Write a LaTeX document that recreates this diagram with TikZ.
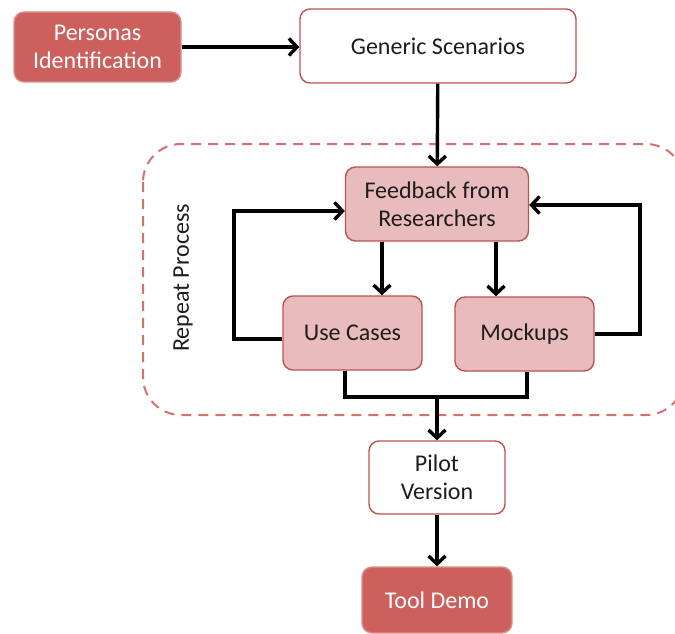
\documentclass[tikz,border=0pt]{standalone}
\usepackage{fontspec}
\setmainfont{Carlito}
\usepackage{tikz}
\usetikzlibrary{arrows.meta,positioning}

\definecolor{boxred}{RGB}{205,96,92}
\definecolor{boxpink}{RGB}{232,188,188}
\definecolor{edgered}{RGB}{186,84,82}
\definecolor{dashred}{RGB}{214,112,110}
\definecolor{txtdark}{RGB}{32,28,28}

\begin{document}
\begin{tikzpicture}[x=1pt, y=-1pt]
  \useasboundingbox (0,0) rectangle (675,634);

  % ---- Styles ---------------------------------------------------
  \tikzstyle{box}=[rounded corners=10pt, draw=edgered, line width=1.4pt,
                   align=center, text=txtdark, inner sep=0pt,
                   font=\fontsize{24}{28}\selectfont]
  \tikzstyle{darkbox}=[box, fill=boxred, draw=boxred!70!white, text=white]
  \tikzstyle{pinkbox}=[box, fill=boxpink]
  \tikzstyle{plainbox}=[box, fill=white]
  \tikzstyle{arrow}=[line width=3.4pt, line join=miter,
                     -{Straight Barb[length=8pt, width=17pt]}]
  \tikzstyle{line}=[line width=3.4pt, line join=miter]

  % ---- Repeat region (dashed, runs off the right edge) ----------
  \draw[dashred, line width=2pt, dash pattern=on 10pt off 7pt,
        rounded corners=38pt] (143,144) rectangle (684,415);
  \node[rotate=90, font=\fontsize{24}{28}\selectfont, text=txtdark]
    (repeat) at (183,278) {Repeat Process};

  % ---- Boxes ----------------------------------------------------
  \node[darkbox,  minimum width=167pt, minimum height=70pt] (personas) at (97.5,47)  {Personas\\Identification};
  \node[plainbox, minimum width=276pt, minimum height=74pt] (generic)  at (438,46)   {Generic Scenarios};
  \node[pinkbox,  minimum width=183pt, minimum height=74pt] (feedback) at (437,204)  {Feedback from\\Researchers};
  \node[pinkbox,  minimum width=139pt, minimum height=74pt] (usecases) at (352.5,333) {Use Cases};
  \node[pinkbox,  minimum width=139pt, minimum height=74pt] (mockups)  at (524.5,334) {Mockups};
  \node[plainbox, minimum width=136pt, minimum height=73pt] (pilot)    at (437,477.5) {Pilot\\Version};
  \node[darkbox,  minimum width=150pt, minimum height=66pt] (tooldemo) at (437,600)  {Tool Demo};

  % ---- Helper points for the elbows ----------------------------
  \coordinate (ucin)   at (382,0);
  \coordinate (mkin)   at (496,0);
  \coordinate (loopl)  at (234,270);
  \coordinate (loopr)  at (640,270);
  \coordinate (ucout)  at (345,0);
  \coordinate (mkout)  at (527,0);
  \coordinate (merge)  at (437,397);

  % ---- Connectors -----------------------------------------------
  \draw[arrow] (personas.east) -- (personas.east -| generic.west);
  \draw[arrow] (generic) -- (feedback);
  \draw[arrow] (feedback.south -| ucin) -- (usecases.north -| ucin);
  \draw[arrow] (feedback.south -| mkin) -- (mockups.north -| mkin);

  % loops back to the feedback step
  \draw[arrow] ([yshift=-6pt]usecases.west) -| (loopl) |- ([yshift=-7pt]feedback.west);
  \draw[arrow] (mockups.east) -| (loopr) |- ([yshift=-1pt]feedback.east);

  % both outputs join and go on to the pilot
  \draw[line] (usecases.south -| ucout) |- (merge) -| (mockups.south -| mkout);
  \draw[arrow] (merge) -- (pilot);
  \draw[arrow] (pilot) -- (tooldemo);

\end{tikzpicture}
\end{document}
